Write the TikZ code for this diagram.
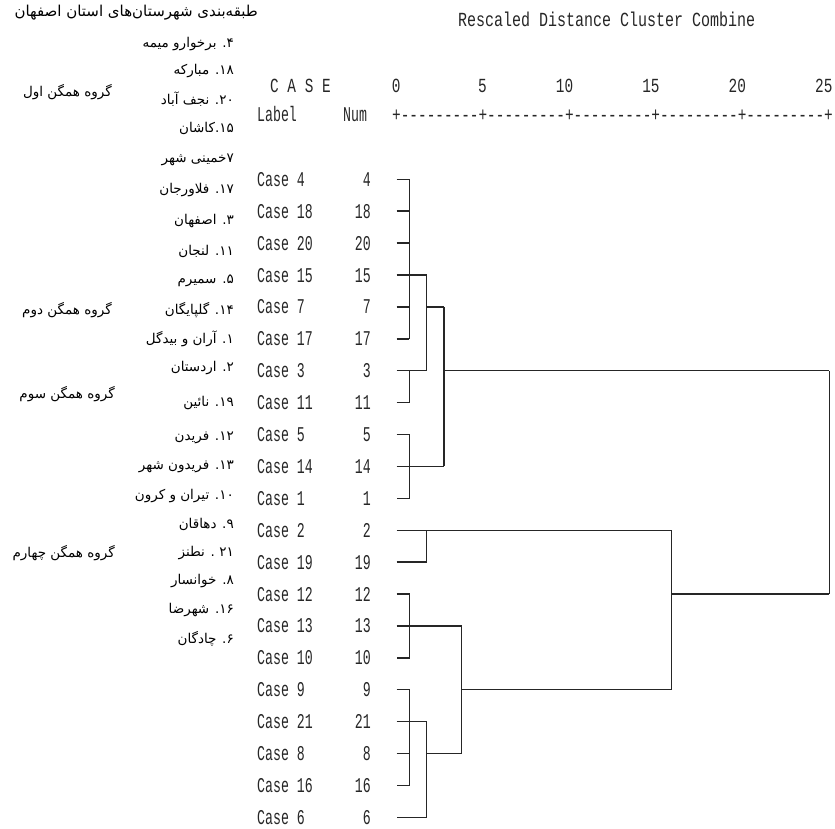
\documentclass[tikz,border=0pt]{standalone}
\usepackage{fontspec}
\newfontfamily\monofnt[FakeStretch=0.72]{Liberation Mono}
\newfontfamily\monowide[FakeStretch=0.75]{Liberation Mono}
\newfontfamily\mononarrow[FakeStretch=0.63]{Liberation Mono}
\newfontfamily\farsi[Script=Arabic]{DejaVu Sans}
\TeXXeTstate=1
\tikzset{
  den/.style={line width=1.4pt,black!85},
  mono/.style={font=\monofnt\fontsize{20}{20}\selectfont,inner sep=0pt,text=black!85},
  casetxt/.style={mono,font=\mononarrow\fontsize{21}{21}\selectfont},
  fa/.style={font=\farsi\fontsize{13.5}{15}\selectfont,inner sep=0pt,anchor=east},
}

\begin{document}
\begin{tikzpicture}[x=1pt,y=-1pt]
       \useasboundingbox(0,0)rectangle(835,829);%画面

       %見出し
       \node[mono,font=\monowide\fontsize{20}{20}\selectfont,anchor=base west](title)at(458,27){Rescaled Distance Cluster Combine};
       \node[mono,anchor=base west](casehd)at(270,93){C A S E};
       \node[casetxt,anchor=base west](labelhd)at(257,122){Label};
       \node[casetxt,anchor=base west](numhd)at(343,122){Num};
       \node[mono,anchor=base west](scale)at(392,122){+---------+---------+---------+---------+---------+};
       \foreach \v in{0,5,...,25}
           \node[mono,anchor=base east](tick\v)at({396.3+\v*17.28+4.3},93){\v};%目盛 0-25

       %事例と葉
       \foreach \c[count=\i from 0] in{4,18,20,15,7,17,3,11,5,14,1,2,19,12,13,10,9,21,8,16,6}{
           \node[casetxt,anchor=base west](case\c)at(257,{179.3+31.9*\i+7}){Case \c};
           \node[casetxt,anchor=base east](num\c)at(371,{179.3+31.9*\i+7}){\c};
           \coordinate(leaf\c)at(396.7,{179.3+31.9*\i});
       }

       %結合の高さ
       \coordinate(L1)at(409.3,0);
       \coordinate(L2)at(426.7,0);
       \coordinate(L3)at(444,0);
       \coordinate(L4)at(461.7,0);
       \coordinate(L5)at(671.7,0);
       \coordinate(L6)at(829.3,0);

       %群 4-17
       \foreach \c in{4,18,20,7,17}
           \draw[den](leaf\c)--(leaf\c-|L1);
       \draw[den](leaf4-|L1)--(leaf17-|L1);
       \draw[den](leaf15)--(leaf15-|L2);
       %群 3,11
       \draw[den](leaf11)-|(leaf3-|L1);
       \draw[den](leaf3)--(leaf3-|L2);
       \draw[den](leaf15-|L2)--(leaf3-|L2);
       \draw[den](leaf7-|L2)--(leaf7-|L3);
       %群 5,14,1
       \draw[den](leaf5)-|(leaf1-|L1)--(leaf1);
       \draw[den](leaf14)--(leaf14-|L3);
       \draw[den](leaf7-|L3)--(leaf14-|L3);
       \draw[den](leaf3-|L3)--(leaf3-|L6);
       %群 2,19
       \draw[den](leaf2)--(leaf2-|L5);
       \draw[den](leaf19)-|(leaf2-|L2);
       %群 12,13,10
       \draw[den](leaf12)-|(leaf10-|L1)--(leaf10);
       \draw[den](leaf13)--(leaf13-|L4);
       %群 9,21,8,16,6
       \draw[den](leaf9)-|(leaf16-|L1)--(leaf16);
       \draw[den](leaf8)--(leaf8-|L1);
       \draw[den](leaf21)-|(leaf6-|L2)--(leaf6);
       \draw[den](leaf8-|L2)--(leaf8-|L4);
       \draw[den](leaf13-|L4)--(leaf8-|L4);
       \draw[den](leaf9-|L4)--(leaf9-|L5);
       \draw[den](leaf2-|L5)--(leaf9-|L5);
       \draw[den](leaf12-|L5)--(leaf12-|L6);
       %全体
       \draw[den](leaf3-|L6)--(leaf12-|L6);

       %左の表
       \node[fa,font=\farsi\fontsize{15}{16}\selectfont](fatitle)at(258,13){\beginR طبقه^^^^200cبندی شهرستان^^^^200cهای استان اصفهان\endR};
       \foreach \yy/\name[count=\i] in{44/۴. برخوارو میمه,71/۱۸. مبارکه,99/۲۰. نجف آباد,
           128/۱۵.کاشان,160/۷خمینی شهر,190/۱۷. فلاورجان,221/۳. اصفهان,251/۱۱. لنجان,
           281/۵. سمیرم,310/۱۴. گلپایگان,339/۱. آران و بیدگل,368/۲. اردستان,403/۱۹. نائین,
           438/۱۲. فریدن,467/۱۳. فریدون شهر,496/۱۰. تیران و کرون,524/۹. دهاقان,
           553/۲۱ . نطنز,581/۸. خوانسار,610/۱۶. شهرضا,639/۶. چادگان}
           \node[fa](city\i)at(234,\yy){\beginR\name\endR};%市

       \node[fa](grp1)at(112,92){\beginR گروه همگن اول\endR};
       \node[fa](grp2)at(112,310){\beginR گروه همگن دوم\endR};
       \node[fa](grp3)at(115,394){\beginR گروه همگن سوم\endR};
       \node[fa](grp4)at(115,553){\beginR گروه همگن چهارم\endR};

      \end{tikzpicture}
\end{document}
